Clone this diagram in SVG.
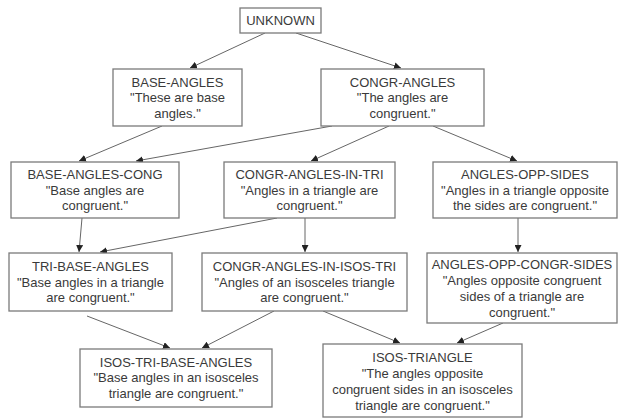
<svg xmlns="http://www.w3.org/2000/svg" width="620" height="419" viewBox="0 0 620 419">
<style>
.box{fill:#fff;stroke:#7a7a7a;stroke-width:1.3}
.t{font-family:"Liberation Sans",Arial,sans-serif;font-size:13px;fill:#3a3a3a;text-anchor:middle}
.e{stroke:#666;stroke-width:1;fill:none;marker-end:url(#ah)}
</style>
<defs>
<marker id="ah" viewBox="0 0 10 10" refX="10" refY="5" markerWidth="7" markerHeight="7" markerUnits="userSpaceOnUse" orient="auto">
<path d="M0,0 L10,5 L0,10 z" fill="#222"/>
</marker>
</defs>
<rect width="620" height="419" fill="#fff"/>
<g id="connectors">
<line class="e" x1="265" y1="33" x2="190" y2="68"/>
<line class="e" x1="296" y1="33" x2="401" y2="68"/>
<line class="e" x1="162" y1="126" x2="79" y2="161"/>
<line class="e" x1="332" y1="126" x2="136" y2="161"/>
<line class="e" x1="389" y1="126" x2="311" y2="161"/>
<line class="e" x1="433" y1="126" x2="517" y2="161"/>
<line class="e" x1="82" y1="218" x2="79" y2="252"/>
<line class="e" x1="277" y1="218" x2="100" y2="252"/>
<line class="e" x1="305" y1="218" x2="305" y2="252"/>
<line class="e" x1="518" y1="218" x2="518" y2="252"/>
<line class="e" x1="87" y1="316" x2="170" y2="348"/>
<line class="e" x1="274" y1="311" x2="202" y2="348"/>
<line class="e" x1="323" y1="311" x2="400" y2="343"/>
<line class="e" x1="503" y1="323" x2="457" y2="343"/>
</g>
<g id="unknown">
<rect class="box" x="240" y="8" width="81" height="25"/>
<text class="t" x="280.5" y="25">UNKNOWN</text>
</g>
<g id="base-angles">
<rect class="box" x="113" y="69" width="129" height="57"/>
<text class="t" x="177.5" y="86.5">BASE-ANGLES</text>
<text class="t" x="177.5" y="102">"These are base</text>
<text class="t" x="177.5" y="117.5">angles."</text>
</g>
<g id="congr-angles">
<rect class="box" x="321" y="69" width="163" height="57"/>
<text class="t" x="402.5" y="86.5">CONGR-ANGLES</text>
<text class="t" x="402.5" y="102">"The angles are</text>
<text class="t" x="402.5" y="117.5">congruent."</text>
</g>
<g id="base-angles-cong">
<rect class="box" x="11" y="162" width="168" height="56"/>
<text class="t" x="95" y="179">BASE-ANGLES-CONG</text>
<text class="t" x="95" y="194.5">"Base angles are</text>
<text class="t" x="95" y="210">congruent."</text>
</g>
<g id="congr-angles-in-tri">
<rect class="box" x="224" y="162" width="171" height="56"/>
<text class="t" x="309.5" y="179">CONGR-ANGLES-IN-TRI</text>
<text class="t" x="309.5" y="194.5">"Angles in a triangle are</text>
<text class="t" x="309.5" y="210">congruent."</text>
</g>
<g id="angles-opp-sides">
<rect class="box" x="433" y="162" width="184" height="56"/>
<text class="t" x="525" y="179">ANGLES-OPP-SIDES</text>
<text class="t" x="525" y="194.5">"Angles in a triangle opposite</text>
<text class="t" x="525" y="210">the sides are congruent."</text>
</g>
<g id="tri-base-angles">
<rect class="box" x="9" y="253" width="163" height="58"/>
<text class="t" x="90.5" y="270.5">TRI-BASE-ANGLES</text>
<text class="t" x="90.5" y="286.5">"Base angles in a triangle</text>
<text class="t" x="90.5" y="302">are congruent."</text>
</g>
<g id="congr-angles-in-isos-tri">
<rect class="box" x="202" y="253" width="205" height="58"/>
<text class="t" x="304.5" y="270.5">CONGR-ANGLES-IN-ISOS-TRI</text>
<text class="t" x="304.5" y="286.5">"Angles of an isosceles triangle</text>
<text class="t" x="304.5" y="302">are congruent."</text>
</g>
<g id="angles-opp-congr-sides">
<rect class="box" x="427" y="253" width="190" height="70"/>
<text class="t" x="522" y="268.5">ANGLES-OPP-CONGR-SIDES</text>
<text class="t" x="522" y="284.5">"Angles opposite congruent</text>
<text class="t" x="522" y="300.5">sides of a triangle are</text>
<text class="t" x="522" y="316.5">congruent."</text>
</g>
<g id="isos-tri-base-angles">
<rect class="box" x="80" y="349" width="192" height="58"/>
<text class="t" x="176" y="366.5">ISOS-TRI-BASE-ANGLES</text>
<text class="t" x="176" y="382">"Base angles in an isosceles</text>
<text class="t" x="176" y="397.5">triangle are congruent."</text>
</g>
<g id="isos-triangle">
<rect class="box" x="323" y="344" width="199" height="73"/>
<text class="t" x="422.5" y="361.5">ISOS-TRIANGLE</text>
<text class="t" x="422.5" y="377.5">"The angles opposite</text>
<text class="t" x="422.5" y="393.5">congruent sides in an isosceles</text>
<text class="t" x="422.5" y="409.5">triangle are congruent."</text>
</g>
</svg>
